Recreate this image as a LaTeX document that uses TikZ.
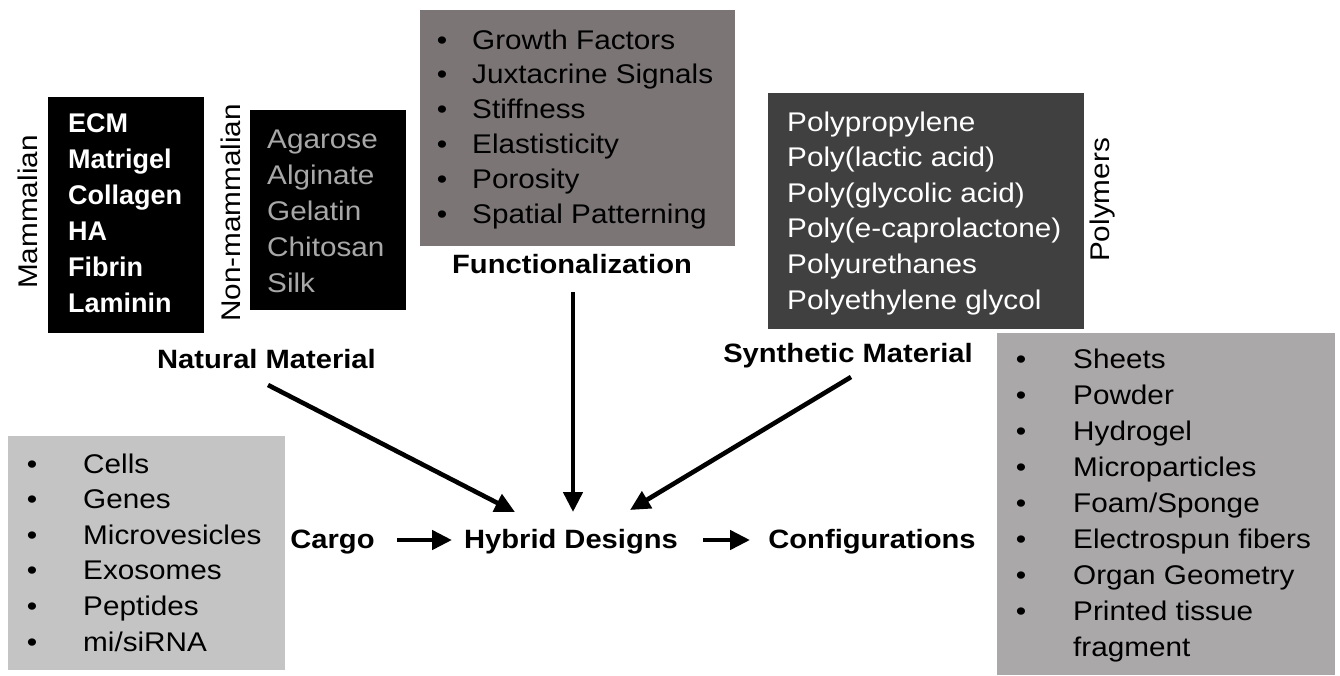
\documentclass[tikz,border=0pt]{standalone}
\usepackage{fontspec}
\setmainfont{Liberation Sans}[FakeStretch=1.1]
\newfontfamily\plainarial{Liberation Sans}
\usetikzlibrary{arrows.meta}
\definecolor{funcgray}{HTML}{7B7576}
\definecolor{polygray}{HTML}{404040}
\definecolor{confgray}{HTML}{ABA8A9}
\definecolor{cargogray}{HTML}{C4C4C4}
\definecolor{nonmamtext}{HTML}{A8A8A8}
\begin{document}
\begin{tikzpicture}[x=1pt,y=-1pt,
  boxnode/.style={inner sep=0pt, outer sep=0pt, anchor=north west},
  txt/.style={inner sep=0pt, anchor=base west, font=\fontsize{27}{32}\selectfont},
  bul/.style={inner sep=0pt, anchor=base, font=\fontsize{27}{32}\selectfont},
  mamtxt/.style={inner sep=0pt, anchor=base west, text=white, font=\plainarial\bfseries\fontsize{27}{32}\selectfont},
  lbl/.style={inner sep=0pt, anchor=base, font=\bfseries\fontsize{26.5}{32}\selectfont},
  side/.style={inner sep=0pt, rotate=90, font=\fontsize{27}{32}\selectfont},
  arr/.style={line width=4.6pt, -{Triangle[length=20pt,width=19pt]}}]
\useasboundingbox (0,0) rectangle (1340,675);
\fill[white] (0,0) rectangle (1340,675);

% boxes
\node[boxnode, fill=black, minimum width=156pt, minimum height=236pt] (mamBox) at (48,97) {};
\node[boxnode, fill=black, minimum width=156pt, minimum height=200pt] (nonBox) at (250,110) {};
\node[boxnode, fill=funcgray, minimum width=315pt, minimum height=236pt] (funcBox) at (420,10) {};
\node[boxnode, fill=polygray, minimum width=316pt, minimum height=236pt] (polyBox) at (768,93) {};
\node[boxnode, fill=cargogray, minimum width=277pt, minimum height=234pt] (cargoBox) at (8,436) {};
\node[boxnode, fill=confgray, minimum width=338pt, minimum height=342pt] (confBox) at (997,333) {};

% mammalian
\foreach \t [count=\i] in {ECM,Matrigel,Collagen,HA,Fibrin,Laminin}
  \node[mamtxt] (mam\i) at (68,{132+36*(\i-1)}) {\t};
\node[side] (mamLbl) at (27.5,212) {Mammalian};

% non-mammalian
\foreach \t [count=\i] in {Agarose,Alginate,Gelatin,Chitosan,Silk}
  \node[txt, text=nonmamtext] (non\i) at (267,{148+36*(\i-1)}) {\t};
\node[side] (nonLbl) at (231,213) {Non-mammalian};

\node[lbl] (natLbl) at (266.5,368) {Natural Material};

% functionalization
\foreach \t [count=\i] in {Growth Factors,Juxtacrine Signals,Stiffness,Elastisticity,Porosity,Spatial Patterning}{
  \node[bul] (fb\i) at (442,{49+34.8*(\i-1)}) {•};
  \node[txt] (ft\i) at (472,{49+34.8*(\i-1)}) {\t};
}
\node[lbl] (funcLbl) at (572,273) {Functionalization};

% polymers
\foreach \t [count=\i] in {Polypropylene,Poly(lactic acid),Poly(glycolic acid),Poly(e-caprolactone),Polyurethanes,Polyethylene glycol}
  \node[txt, text=white] (pt\i) at (787,{131+35.6*(\i-1)}) {\t};
\node[side] (polyLbl) at (1103,200) {Polymers};

\node[lbl] (synLbl) at (848,362) {Synthetic Material};

% cargo
\foreach \t [count=\i] in {Cells,Genes,Microvesicles,Exosomes,Peptides,mi/siRNA}{
  \node[bul] (cb\i) at (32,{473+35.6*(\i-1)}) {•};
  \node[txt] (ct\i) at (83,{473+35.6*(\i-1)}) {\t};
}

% configurations
\foreach \t [count=\i] in {Sheets,Powder,Hydrogel,Microparticles,Foam/Sponge,Electrospun fibers,Organ Geometry,Printed tissue}{
  \node[bul] (kb\i) at (1021,{368+36*(\i-1)}) {•};
  \node[txt] (kt\i) at (1073,{368+36*(\i-1)}) {\t};
}
\node[txt] (kt9) at (1073,{368+36*8}) {fragment};

% central row
\node[lbl] (cargoLbl) at (332.5,548) {Cargo};
\node[lbl] (hybLbl) at (571,548) {Hybrid Designs};
\node[lbl] (confLbl) at (872,548) {Configurations};

% arrow coordinates
\coordinate (natS) at (268,385);
\coordinate (natE) at (515,512);
\coordinate (funcS) at (573,292);
\coordinate (funcE) at (573,512);
\coordinate (synS) at (851,377);
\coordinate (synE) at (630,510);
\coordinate (carS) at (397,540);
\coordinate (carE) at (452,540);
\coordinate (hybS) at (703,540);
\coordinate (hybE) at (750,540);

\draw[arr] (natS) -- (natE);
\draw[arr] (funcS) -- (funcE);
\draw[arr] (synS) -- (synE);
\draw[arr] (carS) -- (carE);
\draw[arr] (hybS) -- (hybE);
\end{tikzpicture}
\end{document}
